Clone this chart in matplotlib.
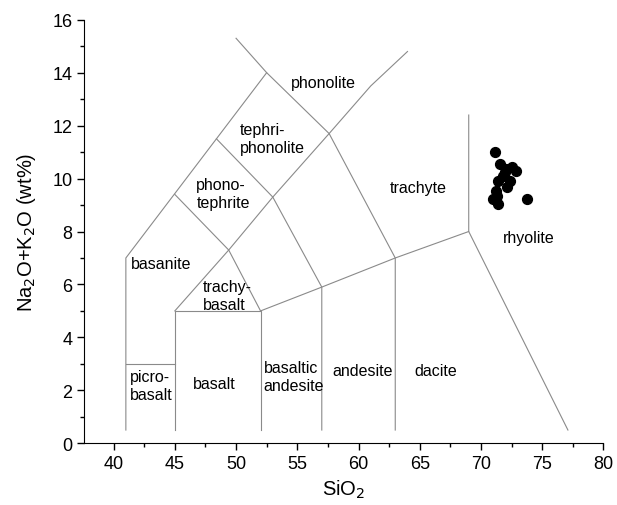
import matplotlib
matplotlib.use("Agg")
import matplotlib.pyplot as plt
from matplotlib.ticker import MultipleLocator

plt.rcParams['font.family'] = ['Liberation Sans', 'DejaVu Sans']

# Muestras (SiO2, Na2O+K2O)
sio2 = [71.18, 71.54, 72.57, 72.84, 72.0, 72.08, 71.76, 71.4, 72.35,
        72.13, 71.21, 71.32, 70.99, 71.4, 73.72]
alk = [11.01, 10.55, 10.42, 10.29, 10.23, 10.36, 10.1, 9.92, 9.92,
       9.67, 9.54, 9.35, 9.23, 9.04, 9.23]

# Limites del diagrama TAS (cada linea: lista de x, lista de y)
bound_x = [
    [41, 41, 52.5, 50.0],
    [41, 45],
    [45, 45, 52, 52],
    [45, 49.4, 52],
    [45, 49.4, 53, 57.6, 61, 64.0],
    [48.4, 53, 57, 57],
    [52.5, 57.6, 63, 63],
    [52, 57, 63, 69, 69],
    [69, 77.1],
]
bound_y = [
    [0.5, 7, 14, 15.3],
    [3, 3],
    [0.5, 5, 5, 0.5],
    [9.4, 7.3, 5],
    [5, 7.3, 9.3, 11.7, 13.5, 14.8],
    [11.5, 9.3, 5.9, 0.5],
    [14, 11.7, 7, 0.5],
    [5, 5.9, 7, 8, 12.4],
    [8, 0.5],
]

# Nombres de los campos
field_names = ['phonolite', 'tephri-\nphonolite', 'phono-\ntephrite', 'trachyte',
               'basanite', 'trachy-\nbasalt', 'picro-\nbasalt', 'basalt',
               'basaltic\nandesite', 'andesite', 'dacite', 'rhyolite']
field_x = [54.5, 50.3, 46.75, 62.55, 41.45, 47.3, 41.3, 46.5, 52.25, 57.87, 64.6, 71.8]
field_y = [13.63, 11.5, 9.45, 9.67, 6.81, 5.59, 2.2, 2.24, 2.51, 2.74, 2.74, 7.78]

fig = plt.figure(figsize=(6.17, 5.06), dpi=100)
ax = fig.add_axes([0.1365, 0.122, 0.8415, 0.837])

for xs, ys in zip(bound_x, bound_y):
    ax.plot(xs, ys, color='#8a8a8a', lw=0.8)

for name, x, y in zip(field_names, field_x, field_y):
    ax.text(x, y, name, ha='left', va='center', fontsize=11.5, linespacing=1.25)

ax.scatter(sio2, alk, s=50, color='black', zorder=3)

ax.set_xlim(37.6, 80)
ax.set_ylim(0, 16)
ax.xaxis.set_major_locator(MultipleLocator(5))
ax.xaxis.set_minor_locator(MultipleLocator(2.5))
ax.yaxis.set_major_locator(MultipleLocator(2))
ax.yaxis.set_minor_locator(MultipleLocator(1))
ax.tick_params(which='major', direction='out', length=5, width=1, labelsize=13)
ax.tick_params(which='minor', direction='out', length=3, width=1)

ax.spines['top'].set_visible(False)
ax.spines['right'].set_visible(False)

ax.set_xlabel('SiO$_2$', fontsize=14.5)
ax.set_ylabel('Na$_2$O+K$_2$O (wt%)', fontsize=14.5, labelpad=10)

fig.savefig('out.png', dpi=100)
